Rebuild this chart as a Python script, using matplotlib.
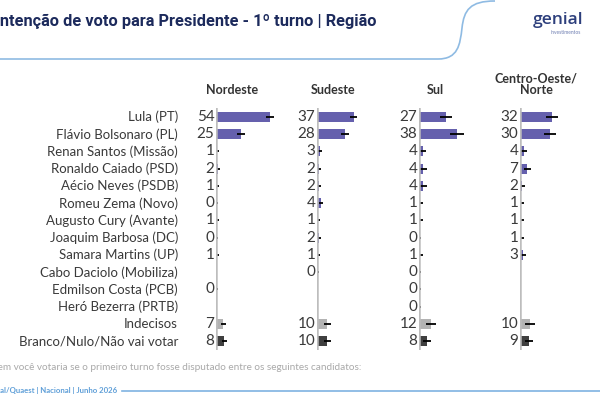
import numpy as np
import matplotlib
matplotlib.use("Agg")
import matplotlib.pyplot as plt
from matplotlib.path import Path
from matplotlib.patches import PathPatch

plt.rcParams['font.family'] = ['Lato', 'DejaVu Sans']

candidates = ["Lula (PT)", "Flávio Bolsonaro (PL)", "Renan Santos (Missão)",
              "Ronaldo Caiado (PSD)", "Aécio Neves (PSDB)", "Romeu Zema (Novo)",
              "Augusto Cury (Avante)", "Joaquim Barbosa (DC)", "Samara Martins (UP)",
              "Cabo Daciolo (Mobiliza)", "Edmilson Costa (PCB)", "Heró Bezerra (PRTB)",
              "Indecisos", "Branco/Nulo/Não vai votar"]
regions = ["Nordeste", "Sudeste", "Sul", "Centro-Oeste/\nNorte"]
nan = np.nan
nordeste = [54, 25, 1, 2, 1, 0, 1, 0, 1, nan, 0, nan, 7, 8]
sudeste = [37, 28, 3, 2, 2, 4, 1, 2, 1, 0, nan, nan, 10, 10]
sul = [27, 38, 4, 4, 4, 1, 1, 0, 1, 0, 0, 0, 12, 8]
centro_norte = [32, 30, 4, 7, 2, 1, 1, 1, 3, nan, nan, nan, 10, 9]
err_nordeste = [4, 4, 1.5, 1.5, 1.5, 1.5, 1.5, 1.5, 1.5, nan, 1.5, nan, 2.5, 2.5]
err_sudeste = [3.5, 4, 2, 2, 2, 2, 2, 2, 2, 2, nan, nan, 3.5, 3.5]
err_sul = [6, 7, 3, 3.5, 3.5, 2.5, 2.5, 2, 2.5, 2, 2, 2, 5, 4]
err_centro_norte = [6, 6, 3, 3.5, 2.5, 2.5, 2.5, 2.5, 3, nan, nan, nan, 5, 4]

values = [nordeste, sudeste, sul, centro_norte]
errors = [err_nordeste, err_sudeste, err_sul, err_centro_norte]

W, H = 600, 400
fig = plt.figure(figsize=(6, 4), dpi=100)
fig.patch.set_facecolor("white")

purple = "#6560ad"
light_grey = "#b3b3b3"
dark_grey = "#3f3f3f"
colors = [purple] * 12 + [light_grey, dark_grey]

axis_x = [216, 317, 419, 520]
top_px, bot_px = 108, 350
n = len(candidates)

for k, (vals, errs) in enumerate(zip(values, errors)):
    ax = fig.add_axes([axis_x[k] / W, 1 - bot_px / H, 62 / W, (bot_px - top_px) / H])
    ax.set_xlim(0, 62)
    ax.set_ylim(n - 0.48, -0.52)
    ax.axis("off")
    y = np.arange(n)
    v = np.array(vals, dtype=float)
    e = np.array(errs, dtype=float)
    ax.barh(y, np.nan_to_num(v), height=0.58, color=colors, zorder=2)
    ax.errorbar(v, y, xerr=e, fmt="none", ecolor="black", elinewidth=1.3, capsize=0, zorder=3)
    ax.axvline(0, color="#bdbdbd", lw=1.8, zorder=4)
    for yi, vi in zip(y, v):
        if not np.isnan(vi):
            ax.text(-1.5, yi, f"{int(vi)}", ha="right", va="center", fontsize=11,
                    color="#3a3a3a", clip_on=False)
    ax.text(16, -1.2, regions[k], ha="center", va="bottom", fontsize=9,
            fontweight="bold", color="#333333", clip_on=False, linespacing=1.0)

# Candidate labels
for i, c in enumerate(candidates):
    ypx = 117 + 17.25 * i
    fig.text(178 / W, 1 - ypx / H, c, ha="right", va="center", fontsize=9.5, color="#3a3a3a")

# Title (left edge cropped, as in the reference)
fig.text(-5 / W, 1 - 21 / H, "Intenção de voto para Presidente - 1º turno | Região",
         ha="left", va="center", fontsize=11.8, fontweight="bold", color="#1c2a5c",
         family=["Roboto", "DejaVu Sans"])

# Header curved line
verts = [(0, 1 - 59 / H), (438 / W, 1 - 59 / H),
         (458 / W, 1 - 59 / H), (460 / W, 1 - 45 / H), (462 / W, 1 - 28 / H),
         (464 / W, 1 - 10 / H), (470 / W, 1 - 1 / H), (495 / W, 1 - 1 / H)]
codes = [Path.MOVETO, Path.LINETO, Path.CURVE4, Path.CURVE4, Path.CURVE4,
         Path.CURVE4, Path.CURVE4, Path.CURVE4]
fig.add_artist(PathPatch(Path(verts, codes), transform=fig.transFigure, fill=False,
                         edgecolor="#8fbbe3", lw=1.2))

# Logo
fig.text(558 / W, 1 - 20 / H, "genial", ha="center", va="center", fontsize=12.5,
         fontweight="semibold", color="#2d3f7c", family=["Open Sans", "DejaVu Sans"])
fig.text(566 / W, 1 - 32 / H, "investimentos", ha="center", va="center", fontsize=3.5,
         color="#6b7bb0")

# Footer
fig.text(-30.5 / W, 1 - 368 / H, "Em quem você votaria se o primeiro turno fosse disputado entre os seguintes candidatos:",
         ha="left", va="center", fontsize=7.2, color="#a9a9a9")
fig.text(-16 / W, 1 - 391 / H, "Genial/Quaest | Nacional | Junho 2026", ha="left", va="center",
         fontsize=5.6, fontweight="bold", color="#5f9fd8")
fig.add_artist(plt.Line2D([122 / W, 1.0], [1 - 391 / H, 1 - 391 / H], transform=fig.transFigure,
                          color="#7fb3e2", lw=1.2))

fig.savefig("out.png", dpi=100)
